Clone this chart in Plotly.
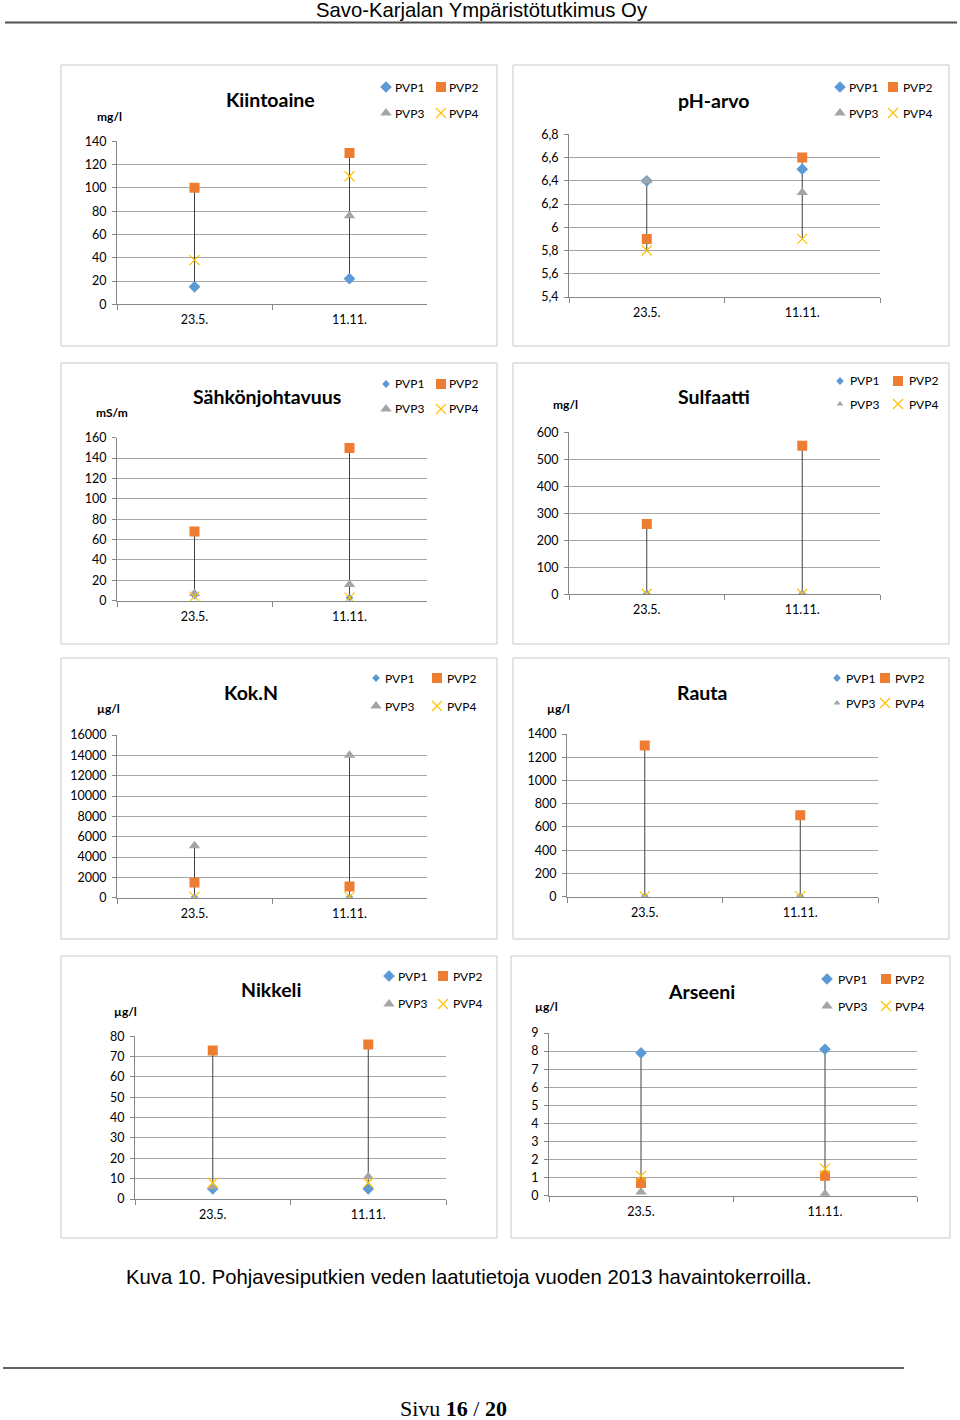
import plotly.graph_objects as go

# ---------------- data ----------------
categories = ["23.5.", "11.11."]
series_names = ["PVP1", "PVP2", "PVP3", "PVP4"]

kiintoaine = {"PVP1": [15, 22], "PVP2": [100, 130], "PVP3": [100, 76], "PVP4": [38, 110]}
kiintoaine_ticks = [0, 20, 40, 60, 80, 100, 120, 140]
kiintoaine_ticklabels = ["0", "20", "40", "60", "80", "100", "120", "140"]

ph = {"PVP1": [6.4, 6.5], "PVP2": [5.9, 6.6], "PVP3": [6.4, 6.3], "PVP4": [5.8, 5.9]}
ph_ticks = [5.4, 5.6, 5.8, 6.0, 6.2, 6.4, 6.6, 6.8]
ph_ticklabels = ["5,4", "5,6", "5,8", "6", "6,2", "6,4", "6,6", "6,8"]

sahko = {"PVP1": [5, 3], "PVP2": [68, 150], "PVP3": [7, 16], "PVP4": [4, 3]}
sahko_ticks = [0, 20, 40, 60, 80, 100, 120, 140, 160]
sahko_ticklabels = ["0", "20", "40", "60", "80", "100", "120", "140", "160"]

sulfaatti = {"PVP1": [2, 2], "PVP2": [260, 550], "PVP3": [2, 2], "PVP4": [2, 2]}
sulfaatti_ticks = [0, 100, 200, 300, 400, 500, 600]
sulfaatti_ticklabels = ["0", "100", "200", "300", "400", "500", "600"]

kokn = {"PVP1": [40, 40], "PVP2": [1500, 1100], "PVP3": [5100, 14000], "PVP4": [80, 80]}
kokn_ticks = [0, 2000, 4000, 6000, 8000, 10000, 12000, 14000, 16000]
kokn_ticklabels = ["0", "2000", "4000", "6000", "8000", "10000", "12000", "14000", "16000"]

rauta = {"PVP1": [3, 3], "PVP2": [1300, 700], "PVP3": [3, 3], "PVP4": [3, 3]}
rauta_ticks = [0, 200, 400, 600, 800, 1000, 1200, 1400]
rauta_ticklabels = ["0", "200", "400", "600", "800", "1000", "1200", "1400"]

nikkeli = {"PVP1": [5, 5], "PVP2": [73, 76], "PVP3": [6, 11], "PVP4": [8, 8]}
nikkeli_ticks = [0, 10, 20, 30, 40, 50, 60, 70, 80]
nikkeli_ticklabels = ["0", "10", "20", "30", "40", "50", "60", "70", "80"]

arseeni = {"PVP1": [7.9, 8.1], "PVP2": [0.7, 1.1], "PVP3": [0.2, 0.1], "PVP4": [1.1, 1.5]}
arseeni_ticks = [0, 1, 2, 3, 4, 5, 6, 7, 8, 9]
arseeni_ticklabels = ["0", "1", "2", "3", "4", "5", "6", "7", "8", "9"]

titles = ["Kiintoaine", "pH-arvo", "Sähkönjohtavuus", "Sulfaatti", "Kok.N", "Rauta", "Nikkeli", "Arseeni"]
units = ["mg/l", "", "mS/m", "mg/l", "µg/l", "µg/l", "µg/l", "µg/l"]

header_text = "Savo-Karjalan Ympäristötutkimus Oy"
caption_text = "Kuva 10. Pohjavesiputkien veden laatutietoja vuoden 2013 havaintokerroilla."
footer_text = "Sivu <b>16</b> / <b>20</b>"

# ---------------- layout geometry (pixels) ----------------
W, H = 960, 1420
FONT = "Lato, Carlito, Calibri, 'Open Sans', sans-serif"

panels = [
    # leg = (symbol col1 x, symbol col2 x, text col1 x, text col2 x, row1 y, row2 y)
    dict(d=kiintoaine, t=kiintoaine_ticks, tl=kiintoaine_ticklabels, yr=[0, 140],
         plot=(117, 427, 141.3, 304.3), box=(61, 497, 65, 346), title=(270, 99), unit=(109, 116),
         leg=(386, 441, 393, 447, 87, 113), small=()),
    dict(d=ph, t=ph_ticks, tl=ph_ticklabels, yr=[5.4, 6.8],
         plot=(569, 880, 134.3, 297), box=(513, 949, 65, 346), title=(713, 100), unit=(0, 0),
         leg=(840, 893, 847, 901, 87, 113), small=()),
    dict(d=sahko, t=sahko_ticks, tl=sahko_ticklabels, yr=[0, 160],
         plot=(117, 427, 437.7, 600.7), box=(61, 497, 363, 644), title=(267, 397), unit=(112, 412),
         leg=(386, 441, 393, 447, 384, 409), small=("PVP1",)),
    dict(d=sulfaatti, t=sulfaatti_ticks, tl=sulfaatti_ticklabels, yr=[0, 600],
         plot=(569, 880, 432.3, 594.3), box=(513, 949, 363, 644), title=(714, 397), unit=(565, 405),
         leg=(840, 898, 848, 907, 381, 404), small=("PVP1", "PVP3")),
    dict(d=kokn, t=kokn_ticks, tl=kokn_ticklabels, yr=[0, 16000],
         plot=(117, 427, 735, 897.7), box=(61, 497, 658, 939), title=(251, 692), unit=(108, 708),
         leg=(376, 437, 383, 445, 678, 706), small=("PVP1",)),
    dict(d=rauta, t=rauta_ticks, tl=rauta_ticklabels, yr=[0, 1400],
         plot=(567, 878, 734, 896.7), box=(513, 949, 658, 939), title=(702, 692), unit=(558, 708),
         leg=(837, 885, 844, 893, 678, 703), small=("PVP1", "PVP3")),
    dict(d=nikkeli, t=nikkeli_ticks, tl=nikkeli_ticklabels, yr=[0, 80],
         plot=(135, 446, 1036.3, 1199), box=(61, 497, 956, 1238), title=(271, 990), unit=(125, 1011),
         leg=(389, 443, 396, 451, 976, 1004), small=()),
    dict(d=arseeni, t=arseeni_ticks, tl=arseeni_ticklabels, yr=[0, 9],
         plot=(549, 917, 1033, 1195.7), box=(511, 950, 956, 1238), title=(701, 992), unit=(546, 1006),
         leg=(827, 886, 836, 893, 979, 1006), small=()),
]

styles = {
    "PVP1": dict(symbol="diamond", color="#5B9BD5", size=9, small=6),
    "PVP2": dict(symbol="square", color="#ED7D31", size=10, small=10),
    "PVP3": dict(symbol="triangle-up", color="#A5A5A5", size=10, small=6),
    "PVP4": dict(symbol="x-thin-open", color="#FFC000", size=10, small=10),
}
draw_order = ["PVP1", "PVP3", "PVP2", "PVP4"]


def fx(x):
    return x / W


def fy(y):
    return 1 - y / H


fig = go.Figure()
layout = dict(
    width=W, height=H, margin=dict(l=0, r=0, t=0, b=0, pad=0, autoexpand=False),
    paper_bgcolor="white", plot_bgcolor="white",
    font=dict(family=FONT, size=12, color="#000000"),
    showlegend=True,
)
annotations = []
shapes = []

for i, p in enumerate(panels, start=1):
    sx = "" if i == 1 else str(i)
    xa, ya = "x" + sx, "y" + sx
    data = p["d"]
    s1, s2, t1, t2, y1, y2 = p["leg"]

    # high-low lines
    hx, hy = [], []
    for ci, cat in enumerate(categories):
        vals = [data[s][ci] for s in series_names if data[s][ci] is not None]
        hx += [cat, cat, None]
        hy += [min(vals), max(vals), None]
    fig.add_trace(go.Scatter(x=hx, y=hy, mode="lines", line=dict(color="#404040", width=1),
                             xaxis=xa, yaxis=ya, showlegend=False, hoverinfo="skip"))

    for s in draw_order:
        st = styles[s]
        size = st["small"] if s in p["small"] else st["size"]
        row = 0 if s in ("PVP1", "PVP2") else 1
        first_col = s in ("PVP1", "PVP3")
        li = 2 * (i - 1) + row + 1
        lname = "legend" if li == 1 else f"legend{li}"
        if st["symbol"] == "x-thin-open":
            marker = dict(symbol=st["symbol"], size=size, color=st["color"],
                          line=dict(color=st["color"], width=1.2))
        else:
            marker = dict(symbol=st["symbol"], size=size, color=st["color"], line=dict(width=0))
        # legend shows the symbol; the series label is written next to it as text
        fig.add_trace(go.Scatter(x=categories, y=data[s], mode="markers", name="", marker=marker,
                                 xaxis=xa, yaxis=ya, legend=lname, showlegend=True, legendgroup=s,
                                 hovertemplate=s + ": %{y}<extra></extra>",
                                 legendwidth=max(1, (s2 - s1) - 45) if first_col else 1))
        annotations.append(dict(text=s, x=fx(t1 if first_col else t2), y=fy(y1 if row == 0 else y2),
                                xref="paper", yref="paper", showarrow=False, xanchor="left", yanchor="middle",
                                font=dict(family=FONT, size=12, color="#000")))

    l, r, t, b = p["plot"]
    layout["xaxis" + sx] = dict(
        domain=[fx(l), fx(r)], anchor=ya, type="category", categoryorder="array",
        categoryarray=categories, range=[-0.5, 1.5], tickson="boundaries",
        ticks="outside", ticklen=5, tickcolor="#868686", showline=True, linecolor="#868686",
        linewidth=1, showgrid=False, zeroline=False, tickfont=dict(family=FONT, size=12.5, color="#000"),
        ticklabelstandoff=4, fixedrange=True,
    )
    layout["yaxis" + sx] = dict(
        domain=[fy(b), fy(t)], anchor=xa, range=p["yr"], tickmode="array", tickvals=p["t"],
        ticktext=p["tl"], showgrid=True, gridcolor="#A6A6A6", gridwidth=1, showline=True,
        linecolor="#868686", linewidth=1, ticks="outside", ticklen=4, tickcolor="#868686",
        zeroline=False, tickfont=dict(family=FONT, size=12.5, color="#000"), ticklabelstandoff=3,
        fixedrange=True,
    )

    # legends (two rows, symbols only)
    for row, yy in enumerate((y1, y2)):
        li = 2 * (i - 1) + row + 1
        lname = "legend" if li == 1 else f"legend{li}"
        layout[lname] = dict(
            x=fx(s1 - 20), y=fy(yy), xref="paper", yref="paper", xanchor="left", yanchor="middle",
            orientation="h", bgcolor="rgba(0,0,0,0)", borderwidth=0,
            font=dict(family=FONT, size=12, color="#000"),
            entrywidthmode="pixels", itemclick=False, itemdoubleclick=False,
            tracegroupgap=0, itemwidth=30,
        )

    # chart box
    bl, br, bt, bb = p["box"]
    shapes.append(dict(type="rect", xref="paper", yref="paper", x0=fx(bl), x1=fx(br), y0=fy(bb), y1=fy(bt),
                       line=dict(color="#C9C9C9", width=1), fillcolor="rgba(0,0,0,0)", layer="below"))
    # title
    tx, ty = p["title"]
    annotations.append(dict(text="<b>" + titles[i - 1] + "</b>", x=fx(tx), y=fy(ty), xref="paper", yref="paper",
                            showarrow=False, xanchor="center", yanchor="middle",
                            font=dict(family=FONT, size=19.5, color="#000")))
    if units[i - 1]:
        ux, uy = p["unit"]
        annotations.append(dict(text="<b>" + units[i - 1] + "</b>", x=fx(ux), y=fy(uy), xref="paper", yref="paper",
                                showarrow=False, xanchor="center", yanchor="middle",
                                font=dict(family=FONT, size=12, color="#000")))

# page decoration
NARROW = "'Liberation Sans Narrow', 'Arial Narrow', 'Liberation Sans', Arial, sans-serif"
annotations.append(dict(text=header_text, x=fx(482), y=fy(10), xref="paper", yref="paper", showarrow=False,
                        xanchor="center", yanchor="middle", font=dict(family=NARROW, size=20.3, color="#000")))
shapes.append(dict(type="line", xref="paper", yref="paper", x0=fx(5), x1=fx(957), y0=fy(22.5), y1=fy(22.5),
                   line=dict(color="#505050", width=2)))
annotations.append(dict(text=caption_text, x=fx(469), y=fy(1277), xref="paper", yref="paper", showarrow=False,
                        xanchor="center", yanchor="middle", font=dict(family=NARROW, size=20.3, color="#000")))
shapes.append(dict(type="line", xref="paper", yref="paper", x0=fx(3), x1=fx(904), y0=fy(1368), y1=fy(1368),
                   line=dict(color="#303030", width=1.5)))
annotations.append(dict(text=footer_text, x=fx(453), y=fy(1408), xref="paper", yref="paper", showarrow=False,
                        xanchor="center", yanchor="middle",
                        font=dict(family="'Liberation Serif', 'Times New Roman', serif", size=22, color="#000")))

layout["annotations"] = annotations
layout["shapes"] = shapes
fig.update_layout(**layout)
fig.write_html("out.html", config={"displayModeBar": False},
               post_script="document.body.style.margin='0';document.body.style.overflow='hidden';")
